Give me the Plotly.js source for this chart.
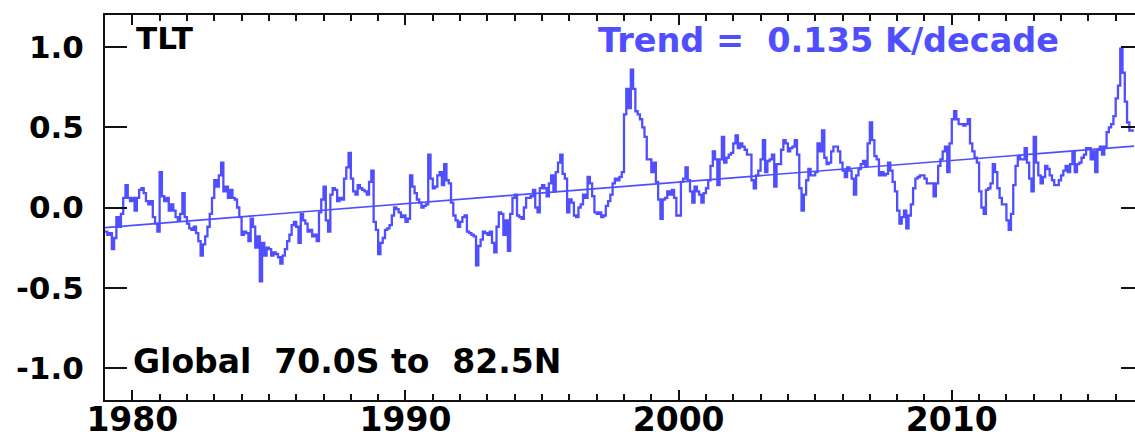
<!DOCTYPE html>
<html><head><meta charset="utf-8">
<script src="https://cdn.plot.ly/plotly-3.0.1.min.js"></script>
<style>html,body{margin:0;padding:0;overflow:hidden;background:#fff;width:1135px;height:440px}</style>
</head><body><div id="chart"></div>
<script>
const startYear = 1979;
const a1979 = [-0.15, -0.17, -0.16, -0.26, -0.19, -0.06, -0.12, -0.04, 0.06, 0.14, 0.06, 0.04];
const a1980 = [0.06, -0.02, 0.06, 0.11, 0.12, 0.09, 0.04, 0.02, 0.04, -0.06, -0.10, -0.15];
const a1981 = [0.22, 0.07, 0.04, 0.06, -0.02, 0.02, -0.02, -0.06, -0.08, -0.04, 0.09, -0.06];
const a1982 = [-0.10, -0.13, -0.14, -0.12, -0.16, -0.21, -0.30, -0.23, -0.18, -0.12, -0.04, 0.06];
const a1983 = [0.17, 0.13, 0.20, 0.28, 0.10, 0.13, 0.06, 0.11, 0.06, 0.05, 0.00, -0.06];
const a1984 = [-0.17, -0.15, -0.16, -0.21, -0.07, -0.12, -0.25, -0.18, -0.46, -0.22, -0.30, -0.25];
const a1985 = [-0.26, -0.30, -0.28, -0.29, -0.31, -0.35, -0.30, -0.26, -0.21, -0.17, -0.11, -0.09];
const a1986 = [-0.12, -0.22, -0.04, -0.08, -0.10, -0.15, -0.14, -0.18, -0.17, -0.21, -0.03, 0.05];
const a1987 = [0.13, -0.08, -0.15, 0.08, 0.12, 0.11, 0.04, 0.06, 0.05, 0.18, 0.25, 0.34];
const a1988 = [0.18, 0.10, 0.08, 0.14, 0.12, 0.11, 0.10, 0.08, 0.16, 0.23, -0.09, -0.14];
const a1989 = [-0.29, -0.22, -0.19, -0.14, -0.13, -0.11, -0.05, 0.00, -0.01, -0.03, -0.06, -0.05];
const a1990 = [-0.09, -0.07, 0.20, 0.13, 0.09, 0.05, 0.03, 0.00, 0.01, 0.02, 0.33, 0.18];
const a1991 = [0.12, 0.13, 0.20, 0.22, 0.14, 0.27, 0.17, 0.15, 0.03, -0.05, -0.08, -0.12];
const a1992 = [-0.09, -0.06, -0.05, -0.15, -0.16, -0.17, -0.18, -0.36, -0.24, -0.20, -0.15, -0.16];
const a1993 = [-0.17, -0.15, -0.22, -0.28, -0.12, -0.03, -0.04, -0.17, -0.08, -0.27, -0.04, 0.06];
const a1994 = [0.08, -0.05, -0.06, -0.07, 0.00, 0.06, 0.06, 0.07, 0.11, 0.00, -0.03, 0.12];
const a1995 = [0.14, 0.12, 0.07, 0.15, 0.20, 0.10, 0.22, 0.28, 0.33, 0.21, 0.18, -0.03];
const a1996 = [0.05, 0.03, -0.05, -0.06, 0.00, 0.02, 0.08, 0.06, 0.19, 0.15, 0.07, -0.03];
const a1997 = [-0.04, -0.03, -0.06, -0.05, 0.01, 0.04, 0.08, 0.15, 0.18, 0.17, 0.19, 0.22];
const a1998 = [0.58, 0.74, 0.62, 0.86, 0.74, 0.60, 0.58, 0.55, 0.50, 0.44, 0.30, 0.30];
const a1999 = [0.22, 0.28, 0.16, 0.05, -0.07, 0.05, 0.06, 0.10, 0.08, 0.11, 0.06, -0.05];
const a2000 = [-0.05, 0.16, 0.18, 0.25, 0.17, 0.10, 0.03, 0.13, 0.10, 0.08, 0.03, 0.09];
const a2001 = [0.12, 0.17, 0.26, 0.35, 0.30, 0.14, 0.30, 0.44, 0.28, 0.31, 0.33, 0.34];
const a2002 = [0.40, 0.45, 0.37, 0.40, 0.38, 0.36, 0.33, 0.33, 0.17, 0.12, 0.20, 0.23];
const a2003 = [0.30, 0.42, 0.22, 0.29, 0.30, 0.33, 0.13, 0.27, 0.27, 0.36, 0.42, 0.40];
const a2004 = [0.35, 0.37, 0.38, 0.42, 0.33, 0.12, -0.02, 0.08, 0.17, 0.24, 0.20, 0.20];
const a2005 = [0.22, 0.40, 0.35, 0.48, 0.31, 0.27, 0.28, 0.35, 0.38, 0.38, 0.35, 0.28];
const a2006 = [0.23, 0.19, 0.25, 0.23, 0.18, 0.08, 0.20, 0.24, 0.27, 0.29, 0.26, 0.40];
const a2007 = [0.53, 0.42, 0.32, 0.30, 0.20, 0.22, 0.20, 0.21, 0.28, 0.23, 0.16, 0.10];
const a2008 = [-0.02, -0.10, -0.06, -0.02, -0.13, -0.05, 0.02, 0.12, 0.18, 0.19, 0.20, 0.20];
const a2009 = [0.18, 0.15, 0.15, 0.15, 0.07, 0.15, 0.26, 0.30, 0.35, 0.38, 0.22, 0.40];
const a2010 = [0.55, 0.60, 0.55, 0.52, 0.52, 0.51, 0.52, 0.55, 0.40, 0.35, 0.31, 0.28];
const a2011 = [0.10, 0.00, -0.04, 0.11, 0.12, 0.15, 0.27, 0.22, 0.12, 0.06, 0.02, 0.02];
const a2012 = [-0.08, -0.14, -0.04, 0.14, 0.26, 0.32, 0.30, 0.30, 0.37, 0.28, 0.18, 0.10];
const a2013 = [0.44, 0.28, 0.20, 0.15, 0.19, 0.26, 0.24, 0.20, 0.17, 0.14, 0.14, 0.17];
const a2014 = [0.20, 0.23, 0.26, 0.22, 0.27, 0.35, 0.22, 0.27, 0.28, 0.31, 0.33, 0.37];
const a2015 = [0.37, 0.30, 0.35, 0.22, 0.36, 0.38, 0.33, 0.38, 0.47, 0.50, 0.52, 0.57];
const a2016 = [0.68, 0.76, 0.99, 0.84, 0.66, 0.53, 0.48, 0.48];

const yearlyAnomalies = [a1979,a1980,a1981,a1982,a1983,a1984,a1985,a1986,a1987,a1988,
  a1989,a1990,a1991,a1992,a1993,a1994,a1995,a1996,a1997,a1998,a1999,a2000,a2001,a2002,
  a2003,a2004,a2005,a2006,a2007,a2008,a2009,a2010,a2011,a2012,a2013,a2014,a2015,a2016];

const trendYears = [1979.0, 2016.67];
const trendValues = [-0.125, 0.383];

const xTickVals = [1980, 1990, 2000, 2010];
const xTickText = ['1980', '1990', '2000', '2010'];
const yTickVals = [-1.0, -0.5, 0.0, 0.5, 1.0];
const yTickText = ['-1.0', '-0.5', '0.0', '0.5', '1.0'];

const labelChannel = 'TLT';
const labelTrend = 'Trend =\u00a0 0.135 K/decade';
const labelRegion = 'Global\u00a0 70.0S to\u00a0 82.5N';

// build monthly step series
const xs = [], ys = [];
yearlyAnomalies.forEach((arr, yi) => {
  arr.forEach((v, m) => { xs.push(startYear + yi + m / 12); ys.push(v); });
});
xs.push(xs[xs.length - 1] + 1 / 12); ys.push(ys[ys.length - 1]);

const blue = '#4f4fff';
const fontFam = '"DejaVu Sans", Verdana, sans-serif';

const traces = [
  { x: xs, y: ys, type: 'scatter', mode: 'lines', line: { color: blue, width: 2.3, shape: 'hv' }, hoverinfo: 'skip' },
  { x: trendYears, y: trendValues, type: 'scatter', mode: 'lines', line: { color: blue, width: 1.7 }, hoverinfo: 'skip' }
];

const layout = {
  width: 1150, height: 440,
  margin: { l: 105, r: 7, t: 15, b: 40 },
  paper_bgcolor: '#fff', plot_bgcolor: '#fff',
  showlegend: false,
  font: { family: fontFam, color: '#000' },
  xaxis: {
    range: [1979, 2017], showgrid: false, zeroline: false,
    showline: true, linecolor: '#111', linewidth: 2, mirror: 'allticks',
    ticks: 'inside', ticklen: 10, tickwidth: 2, tickcolor: '#111',
    tickvals: xTickVals, ticktext: xTickText,
    tickfont: { family: fontFam, size: 33, weight: 700, color: '#000' },
    ticklabelstandoff: -11,
    minor: { dtick: 1, tick0: 1979, ticks: 'inside', ticklen: 6, tickwidth: 2, tickcolor: '#111' }
  },
  yaxis: {
    range: [-1.2, 1.2], showgrid: false, zeroline: false,
    showline: true, linecolor: '#111', linewidth: 2, mirror: 'allticks',
    ticks: 'inside', ticklen: 22, tickwidth: 2, tickcolor: '#111',
    tickvals: yTickVals, ticktext: yTickText,
    tickfont: { family: fontFam, size: 31, weight: 700, color: '#000' },
    ticklabelstandoff: 13
  },
  annotations: [
    { xref: 'paper', yref: 'paper', x: 0.028, y: 0.94, xanchor: 'left', yanchor: 'middle', showarrow: false,
      text: labelChannel, font: { family: fontFam, size: 31, weight: 700, color: '#000' } },
    { xref: 'paper', yref: 'paper', x: 0.473, y: 0.935, xanchor: 'left', yanchor: 'middle', showarrow: false,
      text: labelTrend, font: { family: fontFam, size: 33.5, weight: 700, color: blue } },
    { xref: 'paper', yref: 'paper', x: 0.025, y: 0.099, xanchor: 'left', yanchor: 'middle', showarrow: false,
      text: labelRegion, font: { family: fontFam, size: 33, weight: 700, color: '#000' } }
  ]
};

Plotly.newPlot('chart', traces, layout, { staticPlot: true, displayModeBar: false, responsive: false });
</script></body></html>
